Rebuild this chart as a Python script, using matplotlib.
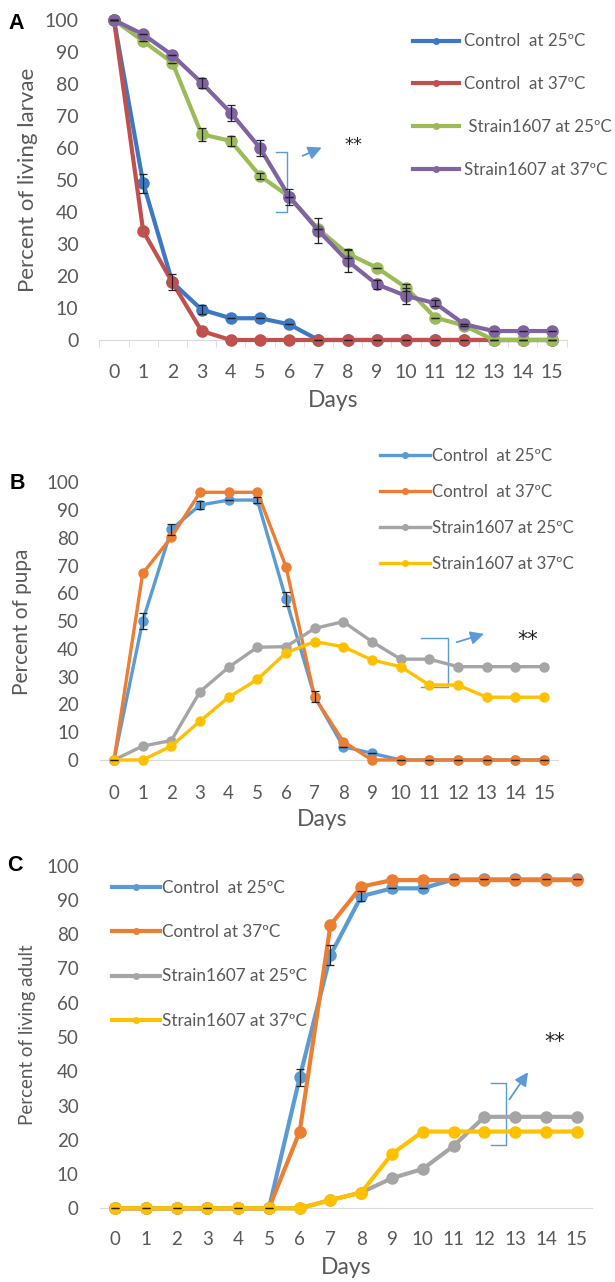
import matplotlib
matplotlib.use('Agg')
import matplotlib.pyplot as plt
from matplotlib.lines import Line2D

days = list(range(16))

# panel A - living larvae
larvae_ctrl25 = [100, 49, 18, 9.5, 6.8, 6.8, 4.9, 0, 0, 0, 0, 0, 0, 0, 0, 0]
larvae_ctrl37 = [100, 34, 18, 2.8, 0, 0, 0, 0, 0, 0, 0, 0, 0, 0, 0, 0]
larvae_str25 = [100, 93.4, 86.7, 64.3, 62.2, 51.3, 44.8, 34.6, 27, 22.6, 16.4, 7, 4.5, 0, 0, 0]
larvae_str37 = [100, 95.5, 89, 80.4, 71, 60, 44.8, 34.2, 24.7, 17.4, 13.8, 11.5, 4.9, 2.8, 2.8, 2.8]
larvae_err25c = [0, 3, 2.5, 1.5, 0, 0, 0, 0, 0, 0, 0, 0, 0, 0, 0, 0]
larvae_err25s = [0, 0, 0, 2, 1.5, 1, 0, 0, 1.5, 0, 1, 0, 0, 0, 0, 0]
larvae_err37s = [0, 0, 0, 1.5, 2.5, 2.5, 2.5, 4, 3.5, 1.5, 2.5, 1, 0, 0, 0, 0]

# panel B - pupa
pupa_ctrl25 = [0, 50, 83, 91.8, 93.6, 93.6, 57.9, 22.8, 4.8, 2.4, 0, 0, 0, 0, 0, 0]
pupa_ctrl37 = [0, 67.2, 80.2, 96.4, 96.4, 96.4, 69.6, 22.6, 6.6, 0, 0, 0, 0, 0, 0, 0]
pupa_str25 = [0, 5, 7, 24.6, 33.4, 40.6, 40.8, 47.4, 49.8, 42.6, 36.3, 36.3, 33.6, 33.6, 33.6, 33.6]
pupa_str37 = [0, 0, 5, 14, 22.6, 29, 38.6, 42.6, 40.8, 36, 33.6, 27, 27, 22.6, 22.6, 22.6]
pupa_err25c = [0, 3, 2, 1.5, 0, 1, 2.5, 2, 0, 0, 0, 0, 0, 0, 0, 0]

# panel C - living adult
adult_ctrl25 = [0, 0, 0, 0, 0, 0, 38.2, 73.9, 91.1, 93.4, 93.4, 96, 96, 96, 96, 96]
adult_ctrl37 = [0, 0, 0, 0, 0, 0, 22.4, 82.7, 93.9, 95.8, 95.8, 95.8, 95.8, 95.8, 95.8, 95.8]
adult_str25 = [0, 0, 0, 0, 0, 0, 0, 2.4, 4.6, 8.8, 11.5, 18.2, 26.7, 26.7, 26.7, 26.7]
adult_str37 = [0, 0, 0, 0, 0, 0, 0, 2.4, 4.6, 15.9, 22.4, 22.4, 22.4, 22.4, 22.4, 22.4]
adult_err25c = [0, 0, 0, 0, 0, 0, 2.5, 3, 1.5, 0, 0, 0, 0, 0, 0, 0]

labels_a = ['Control  at 25ºC', 'Control  at 37ºC', ' Strain1607 at 25ºC', 'Strain1607 at 37ºC']
labels_b = ['Control  at 25ºC', 'Control  at 37ºC', 'Strain1607 at 25ºC', 'Strain1607 at 37ºC']
labels_c = ['Control  at 25ºC', 'Control at 37ºC', 'Strain1607 at 25ºC', 'Strain1607 at 37ºC']

colors_a = ['#3C78C3', '#C0504D', '#9BBB59', '#8064A2']
colors_bc = ['#5B9BD5', '#ED7D31', '#A5A5A5', '#FFC000']

GREY = '#595959'
plt.rcParams['font.family'] = ['Lato', 'DejaVu Sans']

fig = plt.figure(figsize=(6.15, 12.82), dpi=100)


def panel(rect, series, errs, colors, ylabel, lw, ms, fs, ylfs, xpad, xlab_xy, ylab_xy):
	ax = fig.add_axes(rect)
	for y, c in zip(series, colors):
		ax.plot(days, y, color=c, lw=lw, marker='o', ms=ms, clip_on=False, zorder=3)
	for y, e in errs:
		ax.errorbar(days, y, yerr=e, fmt='none', ecolor='#222222', elinewidth=0.9,
			capsize=3, capthick=0.9, zorder=4, clip_on=False)
	ax.set_xlim(-0.5, 15.5)
	ax.set_ylim(0, 100)
	ax.set_yticks(range(0, 101, 10))
	ax.set_xticks(days)
	for s in ['top', 'right', 'left']:
		ax.spines[s].set_visible(False)
	ax.spines['bottom'].set_color('#D9D9D9')
	ax.tick_params(axis='y', length=0, labelsize=fs, labelcolor=GREY, pad=15)
	ax.tick_params(axis='x', length=0, labelsize=fs, labelcolor=GREY, pad=xpad)
	ax.set_ylabel(ylabel, color=GREY, fontsize=ylfs, va='center', ha='center')
	ax.set_xlabel('Days', color=GREY, fontsize=16.5, va='center', ha='center')
	ax.xaxis.set_label_coords(*xlab_xy)
	ax.yaxis.set_label_coords(*ylab_xy)
	handles = [Line2D([], [], color=c, lw=lw, marker='o', ms=4) for c in colors]
	return ax, handles


def bracket(ax, x0, x1, ytop, ybot, start, end):
	ax.plot([x0, x1, x1, x0], [ytop, ytop, ybot, ybot], color='#5B9BD5', lw=1, clip_on=False)
	ax.annotate('', xy=end, xytext=start,
		arrowprops=dict(arrowstyle='-|>', color='#5B9BD5', lw=1.3, mutation_scale=20))


# A
axA, hA = panel([0.1616, 0.7348, 0.7597, 0.2496],
	[larvae_ctrl25, larvae_ctrl37, larvae_str25, larvae_str37],
	[(larvae_ctrl25, larvae_err25c), (larvae_str25, larvae_err25s), (larvae_str37, larvae_err37s)],
	colors_a, 'Percent of living larvae', 3, 8, 14, 16, 17.5, (0.5, -0.19), (-0.153, 0.5))
axA.set_xticks([i - 0.5 for i in range(17)], minor=True)
axA.tick_params(axis='x', which='minor', length=5, color='#D9D9D9', direction='out')
axA.legend(hA, labels_a, loc='upper left', bbox_to_anchor=(0.671, 0.958), frameon=False,
	fontsize=12.2, labelcolor=GREY, handlelength=2.75, handletextpad=0.28, labelspacing=1.58,
	borderpad=0, borderaxespad=0)
bracket(axA, 5.55, 5.92, 58.7, 40, (6.37, 57.2), (7.2, 60.5))
axA.text(7.9, 61, '**', fontsize=13, family='DejaVu Sans', color='#222222', ha='left', va='center')

# B
axB, hB = panel([0.1621, 0.4072, 0.7457, 0.2166],
	[pupa_ctrl25, pupa_ctrl37, pupa_str25, pupa_str37],
	[(pupa_ctrl25, pupa_err25c)],
	colors_bc, 'Percent of pupa', 2.4, 6.5, 13.5, 15, 18, (0.485, -0.216), (-0.169, 0.497))
axB.legend(hB, labels_b, loc='upper left', bbox_to_anchor=(0.611, 1.125), frameon=False,
	fontsize=12.1, labelcolor=GREY, handlelength=3.0, handletextpad=0.1, labelspacing=1.19,
	borderpad=0, borderaxespad=0)
bracket(axB, 10.72, 11.64, 43.9, 26.3, (11.86, 42.1), (13.0, 45.7))
axB.text(14.06, 43.2, '**', fontsize=15, family='DejaVu Sans', color='#222222', ha='left', va='center')

# C
axC, hC = panel([0.162, 0.0575, 0.8008, 0.2672],
	[adult_ctrl25, adult_ctrl37, adult_str25, adult_str37],
	[(adult_ctrl25, adult_err25c)],
	colors_bc, 'Percent of living adult', 3, 8, 13.5, 13.5, 16.5, (0.5, -0.174), (-0.147, 0.506))
axC.legend(hC, labels_c, loc='upper left', bbox_to_anchor=(0.025, 0.958), frameon=False,
	fontsize=12.3, labelcolor=GREY, handlelength=2.8, handletextpad=0.15, labelspacing=1.65,
	borderpad=0, borderaxespad=0)
bracket(axC, 12.2, 12.7, 36.6, 18.5, (12.76, 31.1), (13.47, 40.4))
axC.text(13.96, 48.6, '**', fontsize=15, family='DejaVu Sans', color='#222222', ha='left', va='center')

for lab, (x, y) in zip(['A', 'B', 'C'], [(0.014, 0.982), (0.016, 0.623), (0.012, 0.3245)]):
	fig.text(x, y, lab, fontsize=15.5, fontweight='bold', family='Liberation Sans', va='center')

fig.savefig('out.png', dpi=100)
